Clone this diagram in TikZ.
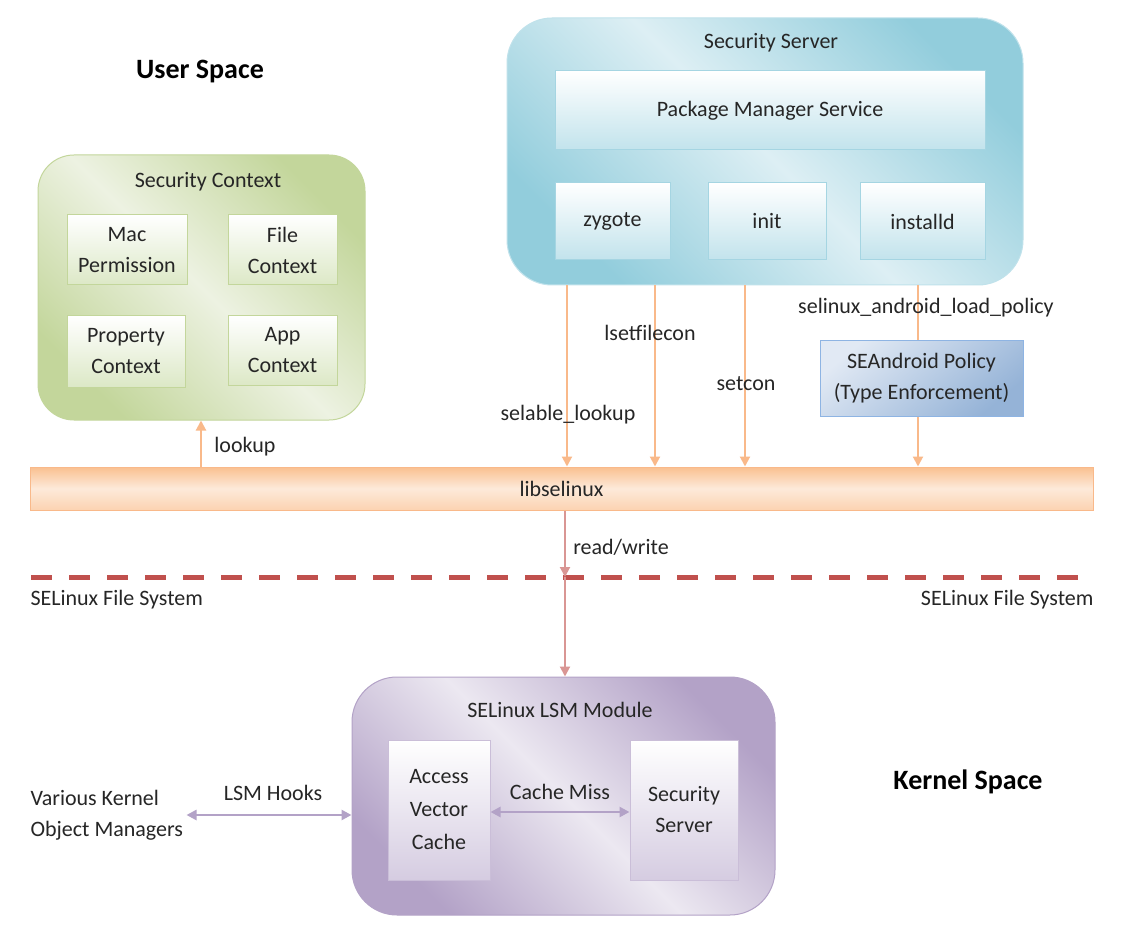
\documentclass[tikz,border=0pt]{standalone}
\usepackage{fontspec}
\setmainfont{Carlito}
\usetikzlibrary{positioning,arrows.meta}
\definecolor{txtgray}{HTML}{262626}
\definecolor{grnlt}{HTML}{EDF2E2}
\definecolor{grndk}{HTML}{C3D69B}
\definecolor{grnin}{HTML}{DCE8C6}
\definecolor{bluelt}{HTML}{DDEFF4}
\definecolor{bluedk}{HTML}{92CDDC}
\definecolor{bluein}{HTML}{C2E3EC}
\definecolor{bluefr}{HTML}{A5D5E2}
\definecolor{orgdk}{HTML}{FAC090}
\definecolor{orglt}{HTML}{FDEADA}
\definecolor{orgline}{HTML}{F9B98A}
\definecolor{pollt}{HTML}{E1E9F4}
\definecolor{poldk}{HTML}{95B3D7}
\definecolor{polfr}{HTML}{8EB4E3}
\definecolor{rwred}{HTML}{D99694}
\definecolor{fsred}{HTML}{C0504D}
\definecolor{purlt}{HTML}{ECE8F1}
\definecolor{purdk}{HTML}{B3A2C7}
\definecolor{purin}{HTML}{D5CCE1}

\begin{document}
\begin{tikzpicture}[x=1pt,y=-1pt,
    >={Triangle[length=10pt,width=10pt]},
    txt/.style={font=\fontsize{22}{31}\selectfont,text=txtgray,align=center},
    bigtxt/.style={font=\fontsize{28}{32}\selectfont\bfseries,text=black},
    inbox/.style={txt,draw,line width=1pt,inner sep=0pt},
    outbox/.style={line width=1pt,rounded corners=45pt,top color=#1dk,bottom color=#1dk,middle color=#1lt,shading angle=-45},
    grnbox/.style={inbox,draw=grndk,top color=white,bottom color=grnin},
    bluebox/.style={inbox,draw=bluefr,top color=white,bottom color=bluein},
    purbox/.style={inbox,draw=purdk!70,top color=white,bottom color=purin},
    orgarrow/.style={->,draw=orgline,line width=2pt},
    purarrow/.style={<->,draw=purdk,line width=2.5pt}]
    \useasboundingbox[fill=white] (0,0) rectangle (1144,952);

    \node[bigtxt] (user) at (200,72) {User Space};
    \node[bigtxt] (kernel) at (968,782) {Kernel Space};

    \node[outbox=grn,draw=grndk,rounded corners=36pt,minimum width=327pt,minimum height=265pt] (ctx) at (201.5,287.5) {};
    \node[txt] (ctxtitle) at (208,182) {Security Context};
    \node[grnbox,minimum width=120pt,minimum height=70pt] (mac) at (127,250) {Mac\\Permission};
    \node[grnbox,minimum width=109pt,minimum height=70pt] (file) at (282.5,250) {File\\Context};
    \node[grnbox,minimum width=118pt,minimum height=71pt] (prop) at (126,351.5) {Property\\Context};
    \node[grnbox,minimum width=109pt,minimum height=69pt] (app) at (282.5,350.5) {App\\Context};

    \node[outbox=blue,draw=bluefr!70,minimum width=516pt,minimum height=267pt] (srv) at (765,151.5) {};
    \node[txt] (srvtitle) at (771,43) {Security Server};
    \node[bluebox,minimum width=430pt,minimum height=79pt] (pms) at (770,110.5) {Package Manager Service};
    \node[bluebox,minimum width=115pt,minimum height=77pt] (zyg) at (612.5,221.5) {zygote};
    \node[bluebox,minimum width=118pt,minimum height=77pt] (init) at (767,221.5) {init};
    \node[bluebox,minimum width=125pt,minimum height=77pt] (inst) at (922.5,221.5) {installd};

    \node[inbox,draw=orgline,minimum width=1063pt,minimum height=43pt,
        top color=orgdk,bottom color=orgdk!70,middle color=orglt] (lib) at (561.5,488.5) {libselinux};
    \node[inbox,draw=polfr,minimum width=203pt,minimum height=76pt,
        top color=pollt,bottom color=poldk,shading angle=40] (pol) at (921.5,378) {SEAndroid Policy\\(Type Enforcement)};

    \draw[orgarrow] (srv.south -| 567,0) -- (lib.north -| 567,0);
    \draw[orgarrow] (srv.south -| 655,0) -- (lib.north -| 655,0);
    \draw[orgarrow] (srv.south -| 745,0) -- (lib.north -| 745,0);
    \draw[orgarrow,-] (srv.south -| 918,0) -- (pol.north -| 918,0);
    \draw[orgarrow] (pol.south -| 918,0) -- (lib.north -| 918,0);
    \draw[orgarrow] (lib.north -| 201,0) -- (ctx.south -| 201,0);
    \node[txt] (lselable) at (568,415) {selable\_lookup};
    \node[txt] (lsetfile) at (650,333) {lsetfilecon};
    \node[txt] (lsetcon) at (746,384) {setcon};
    \node[txt] (lload) at (926,308) {selinux\_android\_load\_policy};
    \node[txt] (llookup) at (245,447) {lookup};

    \draw[fsred,line width=5pt,dash pattern=on 21pt off 17pt] (31,577) -- (1093,577);
    \coordinate (fs) at (565,577);
    \node[txt,anchor=west] (fsleft) at (27,600) {SELinux File System};
    \node[txt,anchor=east] (fsright) at (1097,600) {SELinux File System};

    \node[outbox=pur,draw=purdk,minimum width=423pt,minimum height=238pt] (lsm) at (563.5,796) {};
    \node[txt] (lsmtitle) at (560,710) {SELinux LSM Module};
    \node[purbox,minimum width=102pt,minimum height=140pt,font=\fontsize{22}{33}\selectfont] (avc) at (439,810) {Access\\Vector\\Cache};
    \node[purbox,minimum width=108pt,minimum height=140pt] (sss) at (684,810) {Security\\Server};

    \draw[->,draw=rwred,line width=2pt] (lib.south -| fs) -- (fs);
    \draw[->,draw=rwred,line width=2pt] (fs) -- (lsm.north -| fs);
    \node[txt] (lrw) at (621,547) {read/write};

    \node[txt,align=left,anchor=west] (vkom) at (27,815) {Various Kernel\\Object Managers};
    \draw[purarrow] (vkom.east) -- (lsm.west |- vkom.east);
    \node[txt] (lhooks) at (273,793) {LSM Hooks};
    \draw[purarrow] (avc.east |- 0,812) -- (sss.west |- 0,812);
    \node[txt] (lmiss) at (560,792) {Cache Miss};
\end{tikzpicture}
\end{document}
